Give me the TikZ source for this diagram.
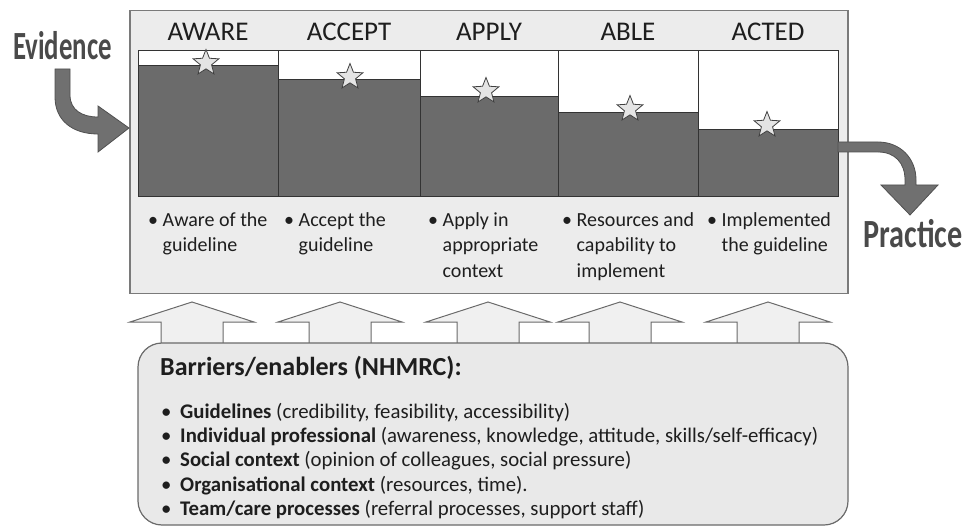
\documentclass[tikz,border=0pt]{standalone}
\usepackage{fontspec}
\setmainfont{Carlito}
\usetikzlibrary{shapes.geometric}
\definecolor{bardark}{HTML}{6B6B6B}
\definecolor{boxbg}{HTML}{ECECEC}
\definecolor{boxline}{HTML}{7A7A7A}
\definecolor{lowbg}{HTML}{E9E9E9}
\definecolor{lowline}{HTML}{6A6A6A}
\definecolor{arrowfill}{HTML}{F0F0F0}
\definecolor{bigarrow}{HTML}{707070}
\definecolor{bigarrowline}{HTML}{505050}
\definecolor{wordgray}{HTML}{4A4A4A}
\definecolor{textdark}{HTML}{1E1E1E}
\definecolor{stargray}{HTML}{E4E4E4}
\newcommand\bl{\textbullet\ }
\newcommand\ib{\phantom{\textbullet\ }}
\newcommand\lb{\makebox[19pt][l]{\textbullet}}
\begin{document}
\begin{tikzpicture}[x=1pt,y=-1pt,
  hdr/.style={font=\fontsize{27}{30}\selectfont, text=textdark, inner sep=0pt},
  desc/.style={font=\fontsize{20}{25.5}\selectfont, text=textdark, inner sep=0pt, align=left, anchor=north west},
  starsh/.style={star, star points=5, star point ratio=2.3, minimum size=27pt, inner sep=0pt, fill=stargray, draw=black!75, line width=0.8pt},
  bigword/.style={font=\fontsize{40}{44}\selectfont\bfseries, text=wordgray, inner sep=0pt, anchor=base},
  bigarr/.style={fill=bigarrow, draw=bigarrowline, line width=0.8pt},
  uparr/.style={fill=arrowfill, draw=lowline, line width=1pt},
  barfill/.style={fill=bardark, draw=black!80, line width=0.8pt},
  bartop/.style={fill=white, draw=black!80, line width=0.8pt}
]
\useasboundingbox (0,0) rectangle (968,526);

% main box
\node[draw=boxline, fill=boxbg, line width=1.5pt, minimum width=718pt, minimum height=283pt, inner sep=0pt, anchor=north west] (main) at (129,10) {};

% columns
\foreach \L/\R/\T [count=\i] in {138/278/65, 278/420/79, 420/558/96, 558/698/112, 698/838/129}{
  \draw[bartop] (\L,50) rectangle (\R,196);
  \draw[barfill] (\L,\T) rectangle (\R,196);
}
\draw[black!80, line width=0.9pt] (138,50) rectangle (838,196);

% headers
\node[hdr] (hAware) at (208,32) {AWARE};
\node[hdr] (hAccept) at (349,32) {ACCEPT};
\node[hdr] (hApply) at (489,32) {APPLY};
\node[hdr] (hAble) at (628,32) {ABLE};
\node[hdr] (hActed) at (768,32) {ACTED};

% stars
\node[starsh] (s1) at (206,63) {};
\node[starsh] (s2) at (350,77) {};
\node[starsh] (s3) at (486,91) {};
\node[starsh] (s4) at (630,109) {};
\node[starsh] (s5) at (767,125) {};

% descriptions
\node[desc] (dAware) at (148,212) {\bl Aware of the\\\ib guideline};
\node[desc] (dAccept) at (284,212) {\bl Accept the\\\ib guideline};
\node[desc] (dApply) at (428,212) {\bl Apply in\\\ib appropriate\\\ib context};
\node[desc] (dAble) at (562,212) {\bl Resources and\\\ib capability to\\\ib implement};
\node[desc] (dActed) at (707,212) {\bl Implemented\\\ib the guideline};

% Evidence
\node[bigword] (ev) at (62.5,60) {\scalebox{0.67}[1]{Evidence}};
\draw[bigarr] (55,69) -- (70,69) -- (70,95) .. controls (70,110) and (82,117) .. (98,117)
  -- (98,106) -- (main.west |- 0,128) -- (98,152) -- (98,134)
  .. controls (72,134) and (55,120) .. (55,97) -- cycle;

% Practice
\node[bigword] (pr) at (913,248) {\scalebox{0.755}[1]{Practice}};
\coordinate (pstart) at (838,142);
\draw[bigarr] (pstart) -- (878,142) .. controls (900,142) and (916,158) .. (916,180)
  -- (916,185) -- (938,185) -- (910,215) -- (881,185) -- (905,185) -- (905,180)
  .. controls (905,163) and (895,152) .. (878,152) -- (838,152) -- cycle;

% up arrows
\foreach \c in {192,340,488,620,768}{
  \draw[uparr] (\c-31,343) -- (\c-31,322) -- (\c-62,322) -- (\c,302) -- (\c+62,322) -- (\c+31,322) -- (\c+31,343);
}

% lower box
\draw[fill=lowbg, draw=lowline, line width=1.2pt, rounded corners=24pt] (138,343) rectangle (848,525);
\node[draw=none, inner sep=0pt, minimum width=710pt, minimum height=182pt, anchor=north west] (low) at (138,343) {};

\node[font=\fontsize{26}{30}\selectfont\bfseries, text=textdark, inner sep=0pt, anchor=west] (btitle) at (160,368) {Barriers/enablers (NHMRC):};

\node[font=\fontsize{20.8}{24.2}\selectfont, text=textdark, inner sep=0pt, align=left, anchor=north west] (blist) at (161,403)
 {\lb\textbf{Guidelines} (credibility, feasibility, accessibility)\\
  \lb\textbf{Individual professional} (awareness, knowledge, attitude, skills/self-efficacy)\\
  \lb\textbf{Social context} (opinion of colleagues, social pressure)\\
  \lb\textbf{Organisational context} (resources, time).\\
  \lb\textbf{Team/care processes} (referral processes, support staff)};
\end{tikzpicture}
\end{document}
